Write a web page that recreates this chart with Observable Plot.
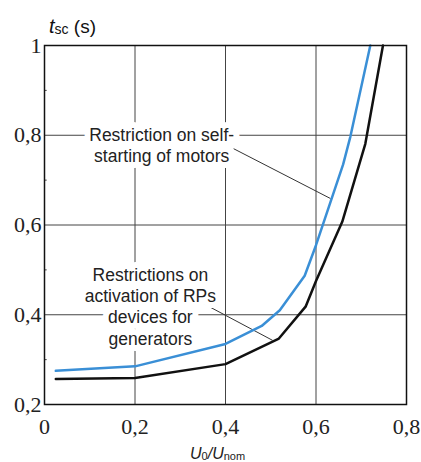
<!DOCTYPE html>
<html><head><meta charset="utf-8">
<script src="https://cdn.jsdelivr.net/npm/d3@7"></script>
<script src="https://cdn.jsdelivr.net/npm/@observablehq/plot@0.6"></script>
<style>body{margin:0;background:#fff}</style>
</head><body><div id="chart"></div>
<script>
// Data
const motorsX = [0.025, 0.2, 0.4, 0.48, 0.52, 0.575, 0.6, 0.66, 0.676, 0.72];
const motorsY = [0.275, 0.285, 0.335, 0.375, 0.41, 0.487, 0.555, 0.735, 0.797, 1.0];
const genX = [0.025, 0.2, 0.4, 0.518, 0.577, 0.6, 0.658, 0.709, 0.748];
const genY = [0.257, 0.259, 0.29, 0.347, 0.418, 0.475, 0.607, 0.781, 1.0];
const xTicks = [0, 0.2, 0.4, 0.6, 0.8];
const yTicks = [0.2, 0.4, 0.6, 0.8, 1];
const yMinor = [0.3, 0.5, 0.7, 0.9];
const labelText = ["Restriction on self-\nstarting of motors", "Restrictions on\nactivation of RPs\ndevices for\ngenerators"];
const labelX = [0.259, 0.234];
const labelY = [0.779, 0.420];
const leaderX1 = [0.418, 0.351];
const leaderY1 = [0.770, 0.425];
const leaderX2 = [0.632, 0.504];
const leaderY2 = [0.659, 0.343];

const motors = motorsX.map((x, i) => ({x, y: motorsY[i]}));
const gen = genX.map((x, i) => ({x, y: genY[i]}));
const labels = labelText.map((t, i) => ({t, x: labelX[i], y: labelY[i]}));
const leaders = leaderX1.map((x1, i) => ({x1, y1: leaderY1[i], x2: leaderX2[i], y2: leaderY2[i]}));
const fmt = d => d === 0 ? "0" : d === 1 ? "1" : String(d).replace(".", ",");

const svg = Plot.plot({
  width: 421, height: 462,
  marginLeft: 44, marginRight: 15, marginTop: 45, marginBottom: 58,
  style: {background: "#fff", overflow: "visible"},
  x: {domain: [0, 0.8]},
  y: {domain: [0.2, 1]},
  marks: [
    Plot.gridX([0.2, 0.4, 0.6], {stroke: "#444", strokeOpacity: 1, strokeWidth: 1}),
    Plot.gridY([0.4, 0.6, 0.8], {stroke: "#444", strokeOpacity: 1, strokeWidth: 1}),
    Plot.ruleY(yMinor, {x1: 0, x2: 0.006, stroke: "#444"}),
    Plot.link(leaders, {x1: "x1", y1: "y1", x2: "x2", y2: "y2", stroke: "#333", strokeWidth: 1}),
    Plot.text(labels, {x: "x", y: "y", text: "t", fontSize: 17.5, fontFamily: "Liberation Sans, Arial, sans-serif",
      fill: "#222", stroke: "white", strokeWidth: 12, lineHeight: 1.22, textAnchor: "middle"}),
    Plot.line(motors, {x: "x", y: "y", stroke: "#3a8fd6", strokeWidth: 2.5}),
    Plot.line(gen, {x: "x", y: "y", stroke: "#111", strokeWidth: 2.5}),
    Plot.frame({stroke: "#111", strokeWidth: 1.5}),
    Plot.axisX(xTicks, {tickSize: 0, tickPadding: 14, tickFormat: fmt, fontSize: 22,
      fontFamily: "Liberation Serif, Times New Roman, serif", fill: "#222", label: null}),
    Plot.axisY(yTicks, {tickSize: 0, tickPadding: 3, tickFormat: fmt, fontSize: 22,
      fontFamily: "Liberation Serif, Times New Roman, serif", fill: "#222", label: null})
  ]
});

const s = d3.select(svg);
const yt = s.append("text").attr("x", 49).attr("y", 33).attr("text-anchor", "start")
  .attr("font-family", "Liberation Sans, Arial, sans-serif").attr("fill", "#111");
yt.append("tspan").attr("font-size", 20).attr("font-style", "italic").text("t");
yt.append("tspan").attr("font-size", 14).attr("dy", 1).text("sc");
yt.append("tspan").attr("font-size", 19).attr("dy", -1).text(" (s)");

const xt = s.append("text").attr("x", 190).attr("y", 459).attr("text-anchor", "start")
  .attr("font-family", "Liberation Sans, Arial, sans-serif").attr("fill", "#222");
xt.append("tspan").attr("font-size", 16).attr("font-style", "italic").text("U");
xt.append("tspan").attr("font-size", 11).attr("dy", 1).text("0");
xt.append("tspan").attr("font-size", 16).attr("dy", -1).attr("font-style", "italic").text("/U");
xt.append("tspan").attr("font-size", 11).attr("dy", 1).text("nom");

document.getElementById("chart").append(svg);
</script>
</body></html>
